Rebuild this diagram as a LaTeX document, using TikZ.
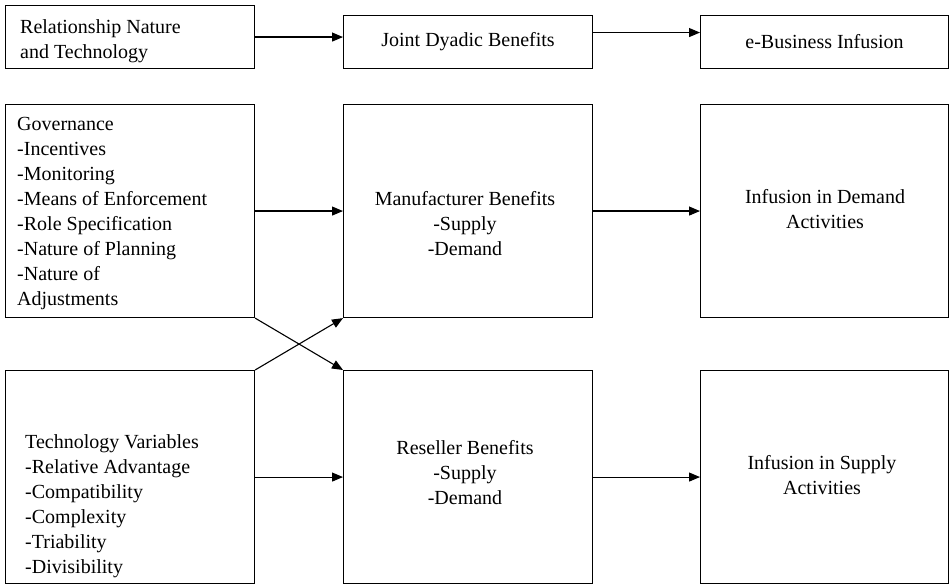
\documentclass[tikz,border=0pt]{standalone}
\usepackage{fontspec}
\setmainfont{Liberation Serif}
\usetikzlibrary{arrows.meta}
\begin{document}
\begin{tikzpicture}[x=1pt,y=-1pt,
  box/.style={draw, line width=1.1pt, inner sep=0pt, anchor=north west,
    minimum width=249pt, minimum height=213pt,
    font=\fontsize{20}{25}\selectfont},
  txt/.style={inner sep=0pt, font=\fontsize{20}{25}\selectfont},
  arr/.style={line width=1.1pt, -{Triangle[length=11pt,width=9pt]}}]
\useasboundingbox (0,0) rectangle (949,585);
% top row
\node[box, minimum height=63pt] (A) at (5,5) {};
\node[txt, anchor=west, align=left] (At) at (20,41) {Relationship Nature\\and Technology};
\node[box, minimum height=53pt] (B) at (343,15) {Joint Dyadic Benefits};
\node[box, minimum height=53pt, minimum width=248pt] (C) at (700,15) {e-Business Infusion};
% middle row
\node[box] (G) at (5,104) {};
\node[txt, anchor=west, align=left] (Gt) at (17,214) {Governance\\-Incentives\\-Monitoring\\-Means of Enforcement\\-Role Specification\\-Nature of Planning\\-Nature of\\Adjustments};
\node[box] (M) at (343,104) {};
\node[txt, align=center] (Mt) at (465,224) {Manufacturer Benefits\\-Supply\\-Demand};
\node[box, minimum width=248pt] (D) at (700,104) {};
\node[txt, align=center] (Dt) at (825,209) {Infusion in Demand\\Activities};
% bottom row
\node[box] (T) at (5,370) {};
\node[txt, anchor=west, align=left] (Tt) at (25,506) {Technology Variables\\-Relative Advantage\\-Compatibility\\-Complexity\\-Triability\\-Divisibility};
\node[box] (R) at (343,370) {};
\node[txt, align=center] (Rt) at (465,473) {Reseller Benefits\\-Supply\\-Demand};
\node[box, minimum width=248pt] (S) at (700,370) {};
\node[txt, align=center] (St) at (822,475) {Infusion in Supply\\Activities};
% connectors
\draw[arr] (A.east) -- (A.east -| B.west);
\draw[arr] ([yshift=9.5pt]B.east) -- ([yshift=9.5pt]C.west);
\draw[arr] (G.east) -- (G.east -| M.west);
\draw[arr] (M.east) -- (M.east -| D.west);
\draw[arr] (T.east) -- (T.east -| R.west);
\draw[arr] (R.east) -- (R.east -| S.west);
\draw[arr] (G.south east) -- (R.north west);
\draw[arr] (T.north east) -- (M.south west);
\end{tikzpicture}
\end{document}
